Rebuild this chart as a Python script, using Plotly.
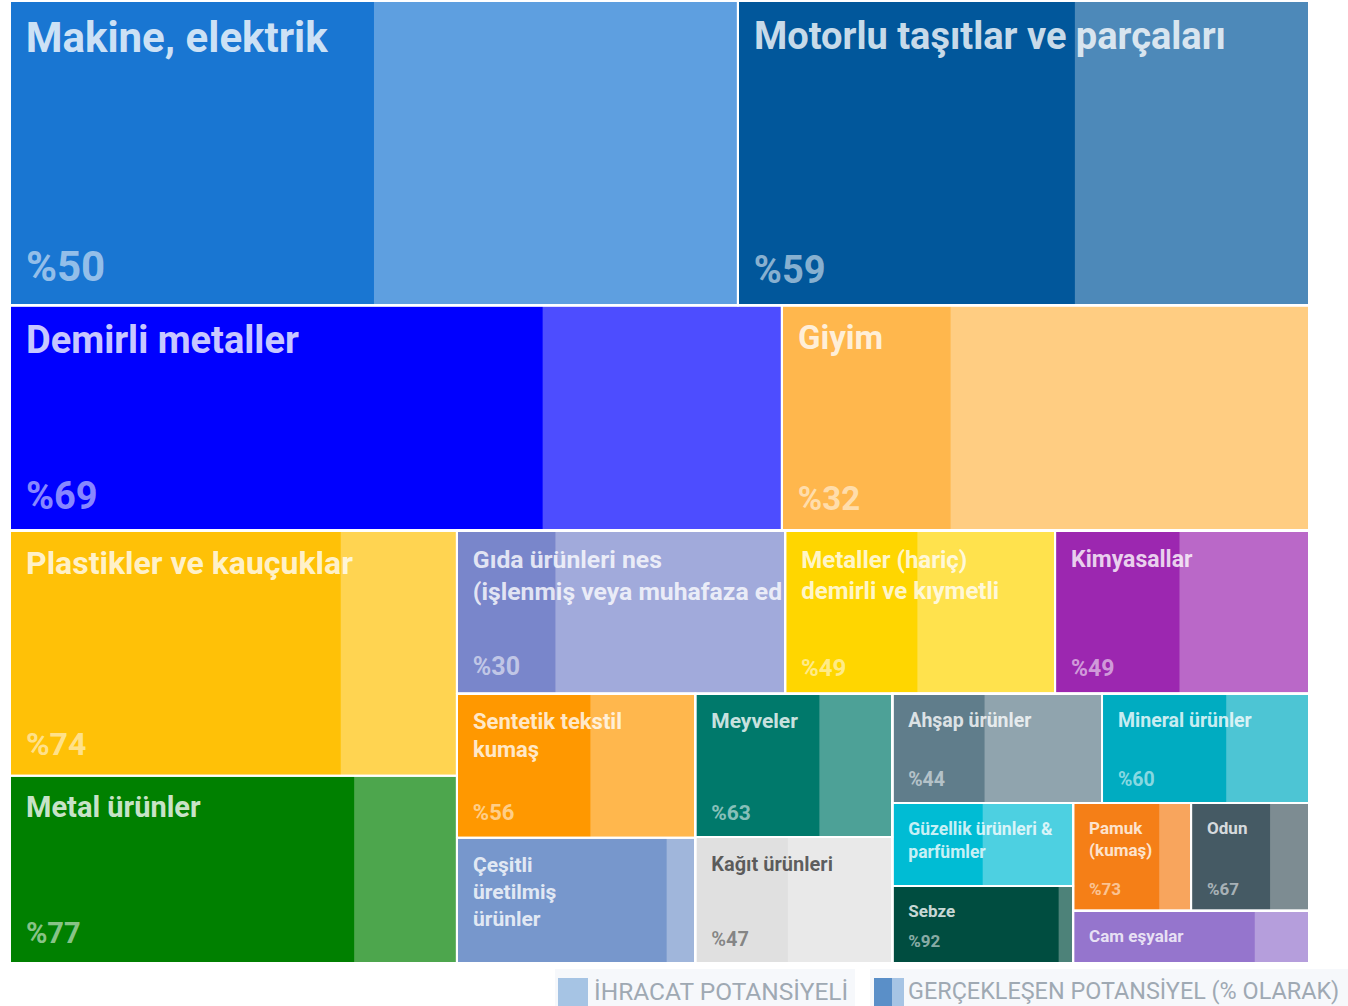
import plotly.graph_objects as go

# ---------------- data ----------------
kategoriler = [
    "Makine, elektrik",
    "Motorlu taşıtlar ve parçaları",
    "Demirli metaller",
    "Giyim",
    "Plastikler ve kauçuklar",
    "Metal ürünler",
    "Gıda ürünleri nes (işlenmiş veya muhafaza edilmiş)",
    "Metaller (hariç) demirli ve kıymetli",
    "Kimyasallar",
    "Sentetik tekstil kumaş",
    "Çeşitli üretilmiş ürünler",
    "Meyveler",
    "Kağıt ürünleri",
    "Ahşap ürünler",
    "Mineral ürünler",
    "Güzellik ürünleri & parfümler",
    "Sebze",
    "Pamuk (kumaş)",
    "Odun",
    "Cam eşyalar",
]
etiket_satirlari = [
    "Makine, elektrik",
    "Motorlu taşıtlar ve parçaları",
    "Demirli metaller",
    "Giyim",
    "Plastikler ve kauçuklar",
    "Metal ürünler",
    "Gıda ürünleri nes<br>(işlenmiş veya muhafaza ed",
    "Metaller (hariç)<br>demirli ve kıymetli",
    "Kimyasallar",
    "Sentetik tekstil<br>kumaş",
    "Çeşitli<br>üretilmiş<br>ürünler",
    "Meyveler",
    "Kağıt ürünleri",
    "Ahşap ürünler",
    "Mineral ürünler",
    "Güzellik ürünleri &<br>parfümler",
    "Sebze",
    "Pamuk<br>(kumaş)",
    "Odun",
    "Cam eşyalar",
]
ihracat_potansiyeli = [2213, 1736, 1737, 1186, 1095, 836, 535, 440, 414, 343,
                       298, 282, 248, 229, 226, 150, 139, 127, 127, 123]
gerceklesen_yuzde = [50, 59, 69, 32, 74, 77, 30, 49, 49, 56,
                     88, 63, 47, 44, 60, 50, 92, 73, 67, 77]
yuzde_gorunur = [True, True, True, True, True, True, True, True, True, True,
                 False, True, True, True, True, False, True, True, True, False]
koyu_renkler = ["#1976d2", "#01579b", "#0000ff", "#ffb74d", "#ffc107", "#008000",
                "#7986cb", "#ffd600", "#9c27b0", "#ff9800", "#7797cc", "#00796b",
                "#e0e0e0", "#607d8b", "#00acc1", "#00bcd4", "#004d40", "#f57f17",
                "#455a64", "#9575cd"]
yazi_boyutu = [42, 38, 38, 33, 32, 29, 25, 24, 23, 22,
               21, 21, 20, 19.5, 19.5, 17.5, 17, 17, 17, 17]
lejant_metinleri = ["İHRACAT POTANSİYELİ", "GERÇEKLEŞEN POTANSİYEL (% OLARAK)"]

# layout grouping of the tiles (indices into kategoriler); V = stacked, H = side by side
duzen = ("V", [
    ("H", [0, 1]),
    ("H", [2, 3]),
    ("H", [
        ("V", [4, 5]),
        ("V", [
            ("H", [6, 7, 8]),
            ("H", [
                ("V", [9, 10]),
                ("V", [11, 12]),
                ("V", [
                    ("H", [13, 14]),
                    ("H", [
                        ("V", [15, 16]),
                        ("V", [("H", [17, 18]), 19]),
                    ]),
                ]),
            ]),
        ]),
    ]),
])


def acik(hex_renk, alfa=0.7):
    h = hex_renk.lstrip("#")
    r, g, b = (int(h[i:i + 2], 16) for i in (0, 2, 4))
    m = lambda c: round(alfa * c + (1 - alfa) * 255)
    return "#{:02x}{:02x}{:02x}".format(m(r), m(g), m(b))


def bosluk(px):
    return '<span style="font-size:%.1fpx">\u00a0</span>' % px


# ---------------- hierarchy ----------------
dugumler = []
sayac = [0]


def toplam(spec):
    if isinstance(spec, int):
        return ihracat_potansiyeli[spec]
    return sum(toplam(c) for c in spec[1])


def ekle(spec, ebeveyn, derinlik):
    gerek = "H" if isinstance(spec, int) else spec[0]
    mevcut = "H" if derinlik % 2 == 0 else "V"   # slice-dice parity
    deger = toplam(spec)
    if gerek != mevcut:
        sayac[0] += 1
        sid = "sarma%d" % sayac[0]
        dugumler.append(dict(id=sid, parent=ebeveyn, value=deger, tur="grup", k=None))
        ebeveyn, derinlik = sid, derinlik + 1
    if isinstance(spec, int):
        kid = "kat%d" % spec
        dugumler.append(dict(id=kid, parent=ebeveyn, value=deger, tur="kat", k=spec))
        dugumler.append(dict(id="gerc%d" % spec, parent=kid,
                             value=deger * gerceklesen_yuzde[spec] / 100, tur="gerc", k=spec))
    else:
        sayac[0] += 1
        gid = "grup%d" % sayac[0]
        dugumler.append(dict(id=gid, parent=ebeveyn, value=deger, tur="grup", k=None))
        for c in spec[1]:
            ekle(c, gid, derinlik + 1)


ekle(duzen, "", 0)


def etiket_metni(k):
    S = yazi_boyutu[k]
    hedef_ust = 18 + 0.07 * S
    F = (hedef_ust - 3 + 0.711 * S) / 0.928
    w = 0.248 * F
    bas = bosluk(F)
    ek = 13 - w
    if ek > 1:
        bas += bosluk(ek / 0.248)
    satirlar = etiket_satirlari[k].split("<br>")
    return "<br>".join(bas + "<b>" + s + "</b>" for s in satirlar)


def yuzde_metni(k):
    if not yuzde_gorunur[k]:
        return ""
    S = yazi_boyutu[k]
    hedef_alt = 11 + 0.3 * S
    F = max((hedef_alt - 3) / 0.244, 52)
    return bosluk(52) + "<b>%" + str(gerceklesen_yuzde[k]) + "</b>" + bosluk(F)


def etiket_rengi(k):
    return "rgba(0,0,0,0.6)" if koyu_renkler[k] == "#e0e0e0" else "rgba(255,255,255,0.8)"


def yuzde_rengi(k):
    return "rgba(0,0,0,0.42)" if koyu_renkler[k] == "#e0e0e0" else "rgba(255,255,255,0.55)"


# colour trace
ids1, par1, val1, lab1, col1, txt1, siz1, tcol1 = [], [], [], [], [], [], [], []
for d in dugumler:
    ids1.append(d["id"]); par1.append(d["parent"]); val1.append(d["value"])
    k = d["k"]
    if d["tur"] == "grup":
        lab1.append(d["id"]); col1.append("#ffffff"); txt1.append("")
        siz1.append(12); tcol1.append("rgba(0,0,0,0)")
    elif d["tur"] == "kat":
        lab1.append(kategoriler[k]); col1.append(acik(koyu_renkler[k])); txt1.append("")
        siz1.append(12); tcol1.append("rgba(0,0,0,0)")
    else:
        lab1.append(kategoriler[k] + " – gerçekleşen"); col1.append(koyu_renkler[k])
        txt1.append(yuzde_metni(k)); siz1.append(yazi_boyutu[k]); tcol1.append(yuzde_rengi(k))

# label trace (same layout, categories as leaves)
ids2, par2, val2, lab2, txt2, siz2, tcol2 = [], [], [], [], [], [], []
for d in dugumler:
    if d["tur"] == "gerc":
        continue
    ids2.append(d["id"]); par2.append(d["parent"]); val2.append(d["value"])
    k = d["k"]
    if d["tur"] == "grup":
        lab2.append(d["id"]); txt2.append(""); siz2.append(12); tcol2.append("rgba(0,0,0,0)")
    else:
        lab2.append(kategoriler[k]); txt2.append(etiket_metni(k))
        siz2.append(yazi_boyutu[k]); tcol2.append(etiket_rengi(k))

W, H = 1348, 1006
alan = dict(x=[10 / W, 1309 / W], y=[1 - 963 / H, 1 - 1 / H])

fig = go.Figure()
fig.add_trace(go.Treemap(
    ids=ids1, parents=par1, values=val1, labels=lab1, text=txt1,
    branchvalues="total", sort=False, textinfo="text",
    textposition="bottom left",
    tiling=dict(packing="slice-dice", pad=0),
    marker=dict(colors=col1, line=dict(width=0, color="white"),
                pad=dict(t=0, l=0, r=0, b=0), depthfade=False),
    textfont=dict(family="Roboto", size=siz1, color=tcol1),
    insidetextfont=dict(family="Roboto", size=siz1, color=tcol1),
    pathbar=dict(visible=False),
    hovertemplate="%{label}<extra></extra>",
    domain=alan,
))
fig.add_trace(go.Treemap(
    ids=ids2, parents=par2, values=val2, labels=lab2, text=txt2,
    branchvalues="total", sort=False, textinfo="text",
    textposition="top left",
    tiling=dict(packing="slice-dice", pad=0),
    marker=dict(colors=["rgba(0,0,0,0)"] * len(ids2), line=dict(width=2, color="white"),
                pad=dict(t=0, l=0, r=0, b=0), depthfade=False),
    textfont=dict(family="Roboto", size=siz2, color=tcol2),
    insidetextfont=dict(family="Roboto", size=siz2, color=tcol2),
    pathbar=dict(visible=False),
    hoverinfo="skip",
    domain=alan,
))

# legend (drawn as decoration)
def px_x(x):
    return x / W


def px_y(y):
    return 1 - y / H


lejant_renk_acik = "#a6c4e4"
lejant_renk_koyu = "#5a8fc8"
sekiller = [
    dict(type="rect", xref="paper", yref="paper", x0=px_x(555), x1=px_x(855),
         y0=px_y(1012), y1=px_y(969), fillcolor="#f6f8fb", line=dict(width=0), layer="below"),
    dict(type="rect", xref="paper", yref="paper", x0=px_x(870), x1=px_x(1360),
         y0=px_y(1012), y1=px_y(969), fillcolor="#f6f8fb", line=dict(width=0), layer="below"),
    dict(type="rect", xref="paper", yref="paper", x0=px_x(558), x1=px_x(588),
         y0=px_y(1012), y1=px_y(978), fillcolor=lejant_renk_acik, line=dict(width=0)),
    dict(type="rect", xref="paper", yref="paper", x0=px_x(874), x1=px_x(892),
         y0=px_y(1012), y1=px_y(978), fillcolor=lejant_renk_koyu, line=dict(width=0)),
    dict(type="rect", xref="paper", yref="paper", x0=px_x(892), x1=px_x(904),
         y0=px_y(1012), y1=px_y(978), fillcolor=lejant_renk_acik, line=dict(width=0)),
]
notlar = [
    dict(text=lejant_metinleri[0], x=px_x(592), y=px_y(991), xref="paper", yref="paper",
         xanchor="left", yanchor="middle", showarrow=False,
         font=dict(family="Roboto", size=24.5, color="#9fa9b3")),
    dict(text=lejant_metinleri[1], x=px_x(906), y=px_y(991), xref="paper", yref="paper",
         xanchor="left", yanchor="middle", showarrow=False,
         font=dict(family="Roboto", size=23.4, color="#9fa9b3")),
]

fig.update_layout(
    width=W, height=H, margin=dict(l=0, r=0, t=0, b=0),
    paper_bgcolor="white", plot_bgcolor="white",
    shapes=sekiller, annotations=notlar, showlegend=False,
    font=dict(family="Roboto"),
)

fig.write_html("out.html", config={"displayModeBar": False},
               post_script="document.body.style.margin='0';document.body.style.overflow='hidden';")
